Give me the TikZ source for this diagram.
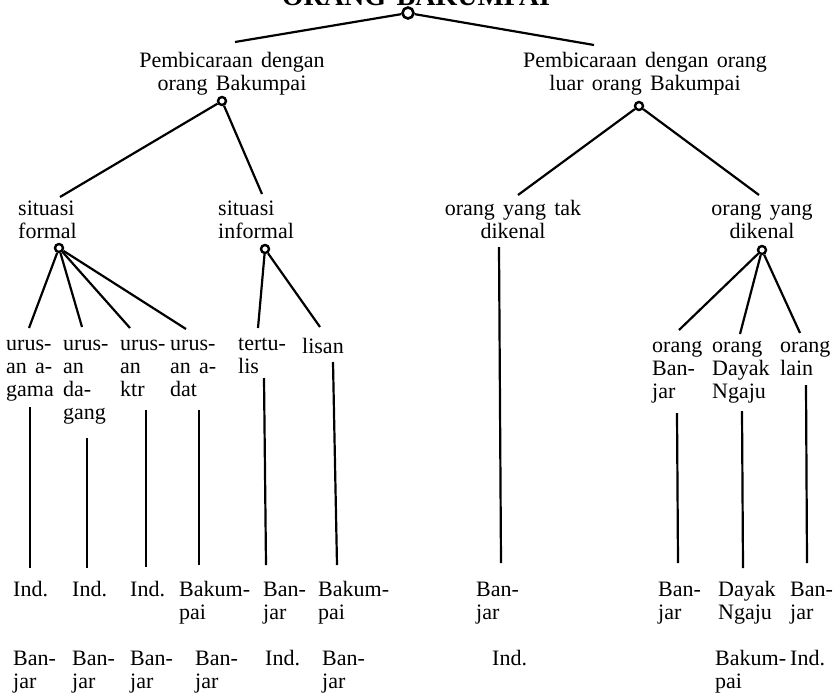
\documentclass[tikz,border=0pt]{standalone}
\usepackage{fontspec}
\setmainfont{Liberation Serif}[WordSpace=1.5]
\newcommand\colL[1]{\begin{tabular}[t]{@{}l@{}}#1\end{tabular}}
\newcommand\colC[1]{\begin{tabular}[t]{@{}c@{}}#1\end{tabular}}
\begin{document}
\begin{tikzpicture}[x=1pt,y=-1pt,
  lbl/.style={inner sep=0pt, font=\fontsize{22}{23}\selectfont},
  lblw/.style={lbl, anchor=base west},
  lblc/.style={lbl, anchor=base},
  knot/.style={circle, draw, line width=2.4pt, minimum size=8pt, inner sep=0pt},
  edge/.style={line width=2.2pt}]
\useasboundingbox (0,0) rectangle (840,699);
\clip (0,0) rectangle (840,699);

% title and root
\node[lbl, font=\fontsize{28}{30}\selectfont\bfseries, anchor=base] (title) at (416,5) {ORANG BAKUMPAI};
\node[knot, minimum size=11pt, line width=2.6pt] (c0) at (408,13) {};

% level 1
\node[lblc] (p1) at (232,67) {\colC{Pembicaraan dengan\\orang Bakumpai}};
\node[knot] (c1) at (222,101) {};
\node[lblc] (p2) at (645,67) {\colC{Pembicaraan dengan orang\\luar orang Bakumpai}};
\node[knot] (c2) at (639,106) {};
\coordinate (e01) at (235,42);
\coordinate (e02) at (594,45);
\draw[edge] (c0) -- (e01);
\draw[edge] (c0) -- (e02);

% level 2
\node[lblw] (sf) at (18,215) {\colL{situasi\\formal}};
\node[knot] (c3) at (59,248) {};
\node[lblw] (si) at (218,215) {\colL{situasi\\informal}};
\node[knot] (c4) at (265,249) {};
\node[lblc] (ot) at (513,215) {\colC{orang yang tak\\dikenal}};
\node[lblc] (ok) at (762,215) {\colC{orang yang\\dikenal}};
\node[knot] (c5) at (762,250) {};
\coordinate (e11) at (60,197);
\coordinate (e12) at (262,194);
\coordinate (e21) at (518,195);
\coordinate (e22) at (759,195);
\draw[edge] (c1) -- (e11);
\draw[edge] (c1) -- (e12);
\draw[edge] (c2) -- (e21);
\draw[edge] (c2) -- (e22);

% level 3 left
\node[lblw] (u1) at (6,350) {\colL{urus-\\an a-\\gama}};
\node[lblw] (u2) at (63,350) {\colL{urus-\\an\\da-\\gang}};
\node[lblw] (u3) at (120,350) {\colL{urus-\\an\\ktr}};
\node[lblw] (u4) at (170,350) {\colL{urus-\\an a-\\dat}};
\node[lblw] (u5) at (238,350) {\colL{tertu-\\lis}};
\node[lblw] (u6) at (302,353) {lisan};
\coordinate (e31) at (29,328);
\coordinate (e32) at (82,327);
\coordinate (e33) at (130,328);
\coordinate (e34) at (186,329);
\coordinate (e41) at (258,328);
\coordinate (e42) at (320,327);
\draw[edge] (c3) -- (e31);
\draw[edge] (c3) -- (e32);
\draw[edge] (c3) -- (e33);
\draw[edge] (c3) -- (e34);
\draw[edge] (c4) -- (e41);
\draw[edge] (c4) -- (e42);

% level 3 right
\node[lblw] (r1) at (652,352) {\colL{orang\\Ban-\\jar}};
\node[lblw] (r2) at (712,352) {\colL{orang\\Dayak\\Ngaju}};
\node[lblw] (r3) at (780,352) {\colL{orang\\lain}};
\coordinate (e51) at (679,330);
\coordinate (e52) at (740,334);
\coordinate (e53) at (800,333);
\draw[edge] (c5) -- (e51);
\draw[edge] (c5) -- (e52);
\draw[edge] (c5) -- (e53);

% vertical lines
\coordinate (v1t) at (30,407);   \coordinate (v1b) at (30,568);
\coordinate (v2t) at (87,438);   \coordinate (v2b) at (87,568);
\coordinate (v3t) at (146,410);  \coordinate (v3b) at (146,567);
\coordinate (v4t) at (199,410);  \coordinate (v4b) at (199,565);
\coordinate (v5t) at (264,378);  \coordinate (v5b) at (266,565);
\coordinate (v6t) at (333,362);  \coordinate (v6b) at (337,565);
\coordinate (v7t) at (499,247);  \coordinate (v7b) at (501,563);
\coordinate (v8t) at (677,413);  \coordinate (v8b) at (678,563);
\coordinate (v9t) at (742,411);  \coordinate (v9b) at (743,568);
\coordinate (v10t) at (806,385); \coordinate (v10b) at (807,563);
\foreach \i in {1,...,10} {\draw[edge] (v\i t) -- (v\i b);}

% bottom row 1
\node[lblw] (a1) at (13,596) {Ind.};
\node[lblw] (a2) at (72,596) {Ind.};
\node[lblw] (a3) at (130,596) {Ind.};
\node[lblw] (a4) at (179,596) {\colL{Bakum-\\pai}};
\node[lblw] (a5) at (263,596) {\colL{Ban-\\jar}};
\node[lblw] (a6) at (318,596) {\colL{Bakum-\\pai}};
\node[lblw] (a7) at (476,596) {\colL{Ban-\\jar}};
\node[lblw] (a8) at (658,596) {\colL{Ban-\\jar}};
\node[lblw] (a9) at (718,596) {\colL{Dayak\\Ngaju}};
\node[lblw] (a10) at (790,596) {\colL{Ban-\\jar}};

% bottom row 2
\node[lblw] (b1) at (13,665) {\colL{Ban-\\jar}};
\node[lblw] (b2) at (72,665) {\colL{Ban-\\jar}};
\node[lblw] (b3) at (130,665) {\colL{Ban-\\jar}};
\node[lblw] (b4) at (195,665) {\colL{Ban-\\jar}};
\node[lblw] (b5) at (265,665) {Ind.};
\node[lblw] (b6) at (322,665) {\colL{Ban-\\jar}};
\node[lblw] (b7) at (492,665) {Ind.};
\node[lblw] (b8) at (715,665) {\colL{Bakum-\\pai}};
\node[lblw] (b9) at (790,665) {Ind.};
\end{tikzpicture}
\end{document}
